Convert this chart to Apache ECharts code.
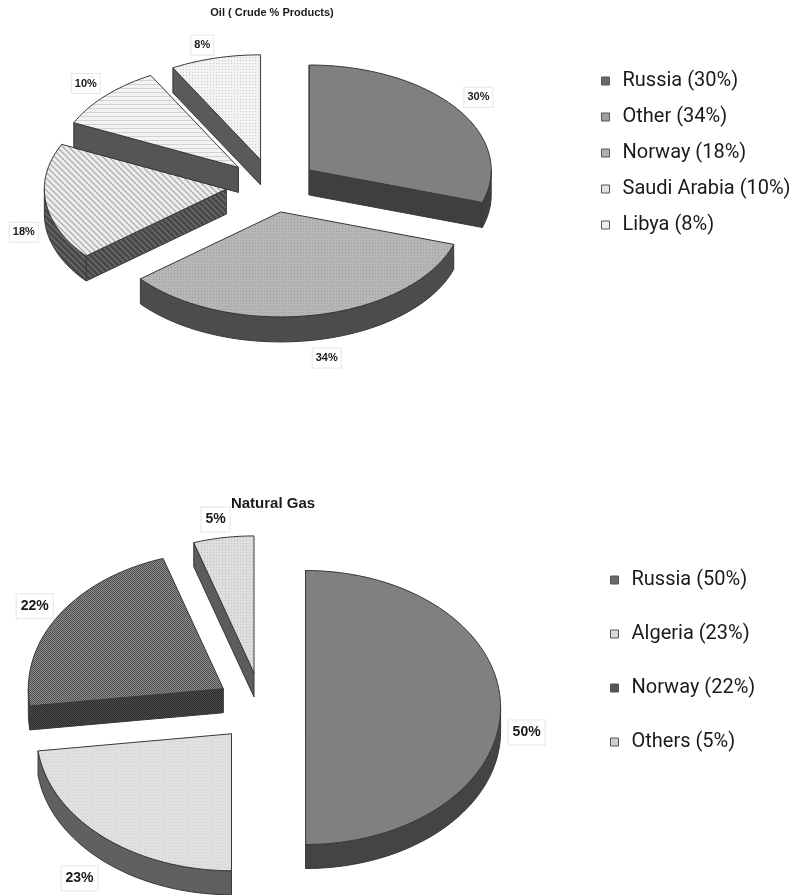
<!DOCTYPE html>
<html>
<head>
<meta charset="utf-8">
<title>Oil and Natural Gas</title>
<style>
  html, body { margin: 0; padding: 0; background: #fff; }
  #main { width: 792px; height: 895px; }
</style>
<script src="https://cdn.jsdelivr.net/npm/echarts@6/dist/echarts.min.js"></script>
</head>
<body>
<div id="main"></div>
<script>
// values
var oilNames = ['Russia', 'Other', 'Norway', 'Saudi Arabia', 'Libya'];
var oilValues = [30, 34, 18, 10, 8];
var gasNames = ['Russia', 'Algeria', 'Norway', 'Others'];
var gasValues = [50, 23, 22, 5];

var FONT = '"Liberation Sans", Arial, sans-serif';
var DEG = Math.PI / 180;

// small repeating fills for the slice faces
function tile(size, bg, fg, draw) {
  var c = document.createElement('canvas');
  c.width = c.height = size;
  var ctx = c.getContext('2d');
  ctx.fillStyle = bg;
  ctx.fillRect(0, 0, size, size);
  ctx.fillStyle = fg;
  ctx.strokeStyle = fg;
  draw(ctx, size);
  return { image: c, repeat: 'repeat' };
}
function dots(bg, fg) {
  return tile(3, bg, fg, function (ctx) {
    ctx.fillRect(0, 0, 1, 1);
  });
}
function checker(bg, fg) {
  return tile(2, bg, fg, function (ctx) {
    ctx.fillRect(0, 0, 1, 1);
    ctx.fillRect(1, 1, 1, 1);
  });
}
function hLines(bg, fg) {
  return tile(4, bg, fg, function (ctx) {
    ctx.fillRect(0, 0, 4, 1);
  });
}
function diag(bg, fg) {
  return tile(6, bg, fg, function (ctx) {
    ctx.lineWidth = 1.4;
    ctx.beginPath();
    ctx.moveTo(-1, -1); ctx.lineTo(7, 7);
    ctx.moveTo(-1, 5); ctx.lineTo(1, 7);
    ctx.moveTo(5, -1); ctx.lineTo(7, 1);
    ctx.stroke();
  });
}

var oilPie = {
  cx: 272, cy: 185.7, rx: 182, ry: 105, depth: 25, ex: 46, ey: 26.7,
  font: 'bold 11px ' + FONT, pad: [4, 3],
  faces: ['#808080', dots('#b6b6b6', '#9e9e9e'), diag('#eeeeee', '#b0b0b0'), hLines('#f2f2f2', '#d2d2d2'), dots('#f2f2f2', '#cccccc')],
  walls: ['#3f3f3f', '#4c4c4c', diag('#484848', '#6c6c6c'), '#555555', '#5a5a5a'],
  swatch: ['#6a6a6a', '#a0a0a0', '#b0b0b0', '#e0e0e0', '#f0f0f0'],
  labelOffset: [[22, -11], [12, 43], [-22, 30], [-20, -12], [-13, -13]]
};
var gasPie = {
  cx: 261, cy: 707.5, rx: 195, ry: 137, depth: 24, ex: 44.6, ey: 35,
  font: 'bold 14px ' + FONT, pad: [5, 4],
  faces: ['#808080', dots('#e0e0e0', '#d0d0d0'), checker('#8c8c8c', '#505050'), dots('#dedede', '#c0c0c0')],
  walls: ['#444444', '#606060', checker('#4a4a4a', '#2e2e2e'), '#5c5c5c'],
  swatch: ['#6a6a6a', '#d8d8d8', '#555555', '#d0d0d0'],
  labelOffset: [[26, 25], [-23, 42], [-24, -9], [-8, -18]]
};

function rimPoint(pie, ox, oy, deg, drop) {
  return [ox + pie.rx * Math.sin(deg * DEG), oy - pie.ry * Math.cos(deg * DEG) + (drop || 0)];
}

// one exploded slice with a flat top and a dropped side wall
function sliceRenderer(pie, index) {
  return function (params, api) {
    var value = api.value(0);
    var from = api.value(1) * 3.6;
    var to = from + value * 3.6;
    var mid = (from + to) / 2;
    var ox = pie.cx + pie.ex * Math.sin(mid * DEG);
    var oy = pie.cy - pie.ey * Math.cos(mid * DEG);
    var d = pie.depth;
    var wall = pie.walls[index];
    var kids = [];

    function poly(points, fill) {
      kids.push({
        type: 'polygon',
        shape: { points: points },
        style: { fill: fill, stroke: '#383838', lineWidth: 1, lineJoin: 'round' }
      });
    }
    function radialWall(deg) {
      var p = rimPoint(pie, ox, oy, deg);
      poly([[ox, oy], p, [p[0], p[1] + d], [ox, oy + d]], wall);
    }
    // a cut face only shows when it looks down the screen
    if (Math.sin(from * DEG) < 0.001) {
      radialWall(from);
    }
    if (Math.sin(to * DEG) > 0.001) {
      radialWall(to);
    }

    // the rim is only seen on the front half
    var a0 = Math.max(from, 90), a1 = Math.min(to, 270);
    if (a1 > a0) {
      var upper = [], lower = [];
      for (var a = a0; a < a1; a += 2) {
        upper.push(rimPoint(pie, ox, oy, a));
        lower.unshift(rimPoint(pie, ox, oy, a, d));
      }
      upper.push(rimPoint(pie, ox, oy, a1));
      lower.unshift(rimPoint(pie, ox, oy, a1, d));
      poly(upper.concat(lower), wall);
    }

    var top = [[ox, oy]];
    for (var b = from; b < to; b += 2) {
      top.push(rimPoint(pie, ox, oy, b));
    }
    top.push(rimPoint(pie, ox, oy, to));
    poly(top, pie.faces[index]);

    var rim = rimPoint(pie, ox, oy, mid);
    var off = pie.labelOffset[index];
    kids.push({
      type: 'text',
      z2: 10,
      style: {
        text: value + '%',
        x: rim[0] + off[0],
        y: rim[1] + off[1],
        font: pie.font,
        fill: '#1a1a1a',
        align: 'center',
        verticalAlign: 'middle',
        backgroundColor: '#fff',
        borderColor: '#e6e6e6',
        borderWidth: 1,
        padding: pie.pad
      }
    });
    return { type: 'group', children: kids };
  };
}

function pieSeries(names, values, pie) {
  var before = 0;
  return names.map(function (name, i) {
    var start = before;
    before += values[i];
    return {
      type: 'custom',
      name: name + ' (' + values[i] + '%)',
      coordinateSystem: 'none',
      silent: true,
      itemStyle: { color: pie.swatch[i] },
      data: [[values[i], start]],
      renderItem: sliceRenderer(pie, i)
    };
  });
}

function legendNames(names, values) {
  return names.map(function (name, i) {
    return name + ' (' + values[i] + '%)';
  });
}

function legendFor(names, values, left, top, gap) {
  return {
    orient: 'vertical',
    left: left,
    top: top,
    itemWidth: 8,
    itemHeight: 8,
    itemGap: gap,
    icon: 'rect',
    selectedMode: false,
    padding: 0,
    itemStyle: { borderColor: '#555', borderWidth: 1 },
    textStyle: {
      fontFamily: 'Roboto, "Liberation Sans", Arial, sans-serif',
      fontSize: 20,
      color: '#1a1a1a',
      padding: [0, 0, 0, 8]
    },
    data: legendNames(names, values)
  };
}

var chart = echarts.init(document.getElementById('main'), null, { renderer: 'canvas' });
chart.setOption({
  animation: false,
  backgroundColor: '#fff',
  title: [
    {
      text: 'Oil ( Crude % Products)',
      left: 272, top: 7, textAlign: 'center', padding: 0,
      textStyle: { fontFamily: FONT, fontSize: 11, fontWeight: 'bold', color: '#1a1a1a' }
    },
    {
      text: 'Natural Gas',
      left: 273, top: 496, textAlign: 'center', padding: 0,
      textStyle: { fontFamily: FONT, fontSize: 15, fontWeight: 'bold', color: '#1a1a1a' }
    }
  ],
  legend: [
    legendFor(oilNames, oilValues, 601, 71, 16),
    legendFor(gasNames, gasValues, 610, 570, 34)
  ],
  series: pieSeries(oilNames, oilValues, oilPie).concat(pieSeries(gasNames, gasValues, gasPie))
});
</script>
</body>
</html>
